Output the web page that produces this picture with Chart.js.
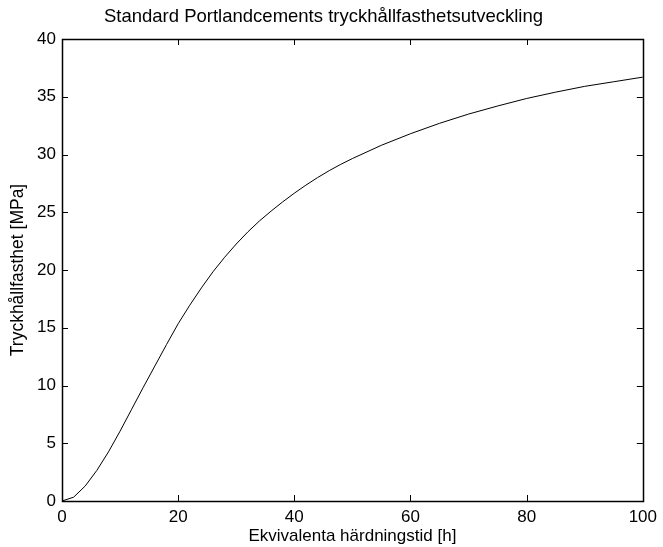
<!DOCTYPE html>
<html>
<head>
<meta charset="utf-8">
<script src="https://cdn.jsdelivr.net/npm/chart.js@4/dist/chart.umd.min.js"></script>
<style>
  html, body { margin: 0; padding: 0; background: #fff; }
  canvas { display: block; }
</style>
</head>
<body>
<canvas id="chart" width="663" height="547"></canvas>
<script>
// hours (equivalent curing time) and compressive strength
const hours = [0, 2, 4, 6, 8, 10, 12, 14, 16, 18, 20, 22, 24, 26, 28, 30, 32, 34, 36, 38, 40, 42, 44, 46, 48, 50, 55, 60, 65, 70, 75, 80, 85, 90, 95, 100];
const strength = [0, 0.33, 1.3, 2.65, 4.25, 6.05, 7.95, 9.85, 11.7, 13.55, 15.35, 16.95, 18.45, 19.85, 21.1, 22.25, 23.3, 24.25, 25.1, 25.9, 26.65, 27.35, 28.0, 28.6, 29.15, 29.65, 30.8, 31.8, 32.7, 33.5, 34.2, 34.85, 35.4, 35.9, 36.3, 36.7];
const xTicks = [0, 20, 40, 60, 80, 100];
const yTicks = [0, 5, 10, 15, 20, 25, 30, 35, 40];

const FONT = '"Liberation Sans", Arial, Helvetica, sans-serif';

// white page + matlab style box with inward ticks
const matlabBox = {
    id: 'matlabBox',
    beforeDraw(chart) {
        const ctx = chart.ctx;
        ctx.save();
        ctx.fillStyle = '#fff';
        ctx.fillRect(0, 0, chart.width, chart.height);
        ctx.restore();
    },
    afterDraw(chart) {
        const ctx = chart.ctx;
        const a = chart.chartArea;
        const xs = chart.scales.x, ys = chart.scales.y;
        const len = 6;
        ctx.save();
        ctx.strokeStyle = '#000';
        ctx.lineWidth = 1;
        ctx.beginPath();
        xs.ticks.forEach(t => {
            const px = Math.round(xs.getPixelForValue(t.value)) + 0.5;
            ctx.moveTo(px, a.bottom); ctx.lineTo(px, a.bottom - len);
            ctx.moveTo(px, a.top); ctx.lineTo(px, a.top + len);
        });
        ys.ticks.forEach(t => {
            const py = Math.round(ys.getPixelForValue(t.value)) + 0.5;
            ctx.moveTo(a.left, py); ctx.lineTo(a.left + len, py);
            ctx.moveTo(a.right, py); ctx.lineTo(a.right - len, py);
        });
        ctx.stroke();
        ctx.lineWidth = 1.5;
        ctx.strokeRect(Math.round(a.left) + 0.5, Math.round(a.top) + 0.5,
            Math.round(a.right - a.left), Math.round(a.bottom - a.top));
        ctx.restore();
    }
};

new Chart(document.getElementById('chart'), {
    type: 'line',
    data: {
        datasets: [{
            data: hours.map((h, i) => ({ x: h, y: strength[i] })),
            borderColor: '#000',
            borderWidth: 1,
            pointRadius: 0,
            tension: 0,
            fill: false
        }]
    },
    options: {
        responsive: false,
        animation: false,
        devicePixelRatio: 1,
        layout: { padding: { left: 0, right: 16, top: 0, bottom: 0 } },
        plugins: {
            legend: { display: false },
            tooltip: { enabled: false },
            title: {
                display: true,
                text: 'Standard Portlandcements tryckhållfasthetsutveckling',
                color: '#000',
                font: { family: FONT, size: 18.5, weight: 'normal' },
                padding: { top: 6, bottom: 10.8 }
            }
        },
        scales: {
            x: {
                type: 'linear',
                min: 0, max: 100,
                afterBuildTicks: s => { s.ticks = xTicks.map(v => ({ value: v })); },
                afterFit: s => { s.height = 46; },
                grid: { display: false, drawTicks: false },
                border: { display: false },
                ticks: { color: '#000', padding: 6, font: { family: FONT, size: 17 } },
                title: {
                    display: true,
                    text: 'Ekvivalenta härdningstid [h]',
                    color: '#000',
                    font: { family: FONT, size: 17 },
                    padding: { top: 0, bottom: 0 }
                }
            },
            y: {
                min: 0, max: 40,
                afterBuildTicks: s => { s.ticks = yTicks.map(v => ({ value: v })); },
                afterFit: s => { s.width = 62; },
                grid: { display: false, drawTicks: false },
                border: { display: false },
                ticks: { color: '#000', padding: 6, font: { family: FONT, size: 17 } },
                title: {
                    display: true,
                    text: 'Tryckhållfasthet [MPa]',
                    color: '#000',
                    font: { family: FONT, size: 17.5 },
                    padding: { top: 8, bottom: 0 }
                }
            }
        }
    },
    plugins: [matlabBox]
});
</script>
</body>
</html>
